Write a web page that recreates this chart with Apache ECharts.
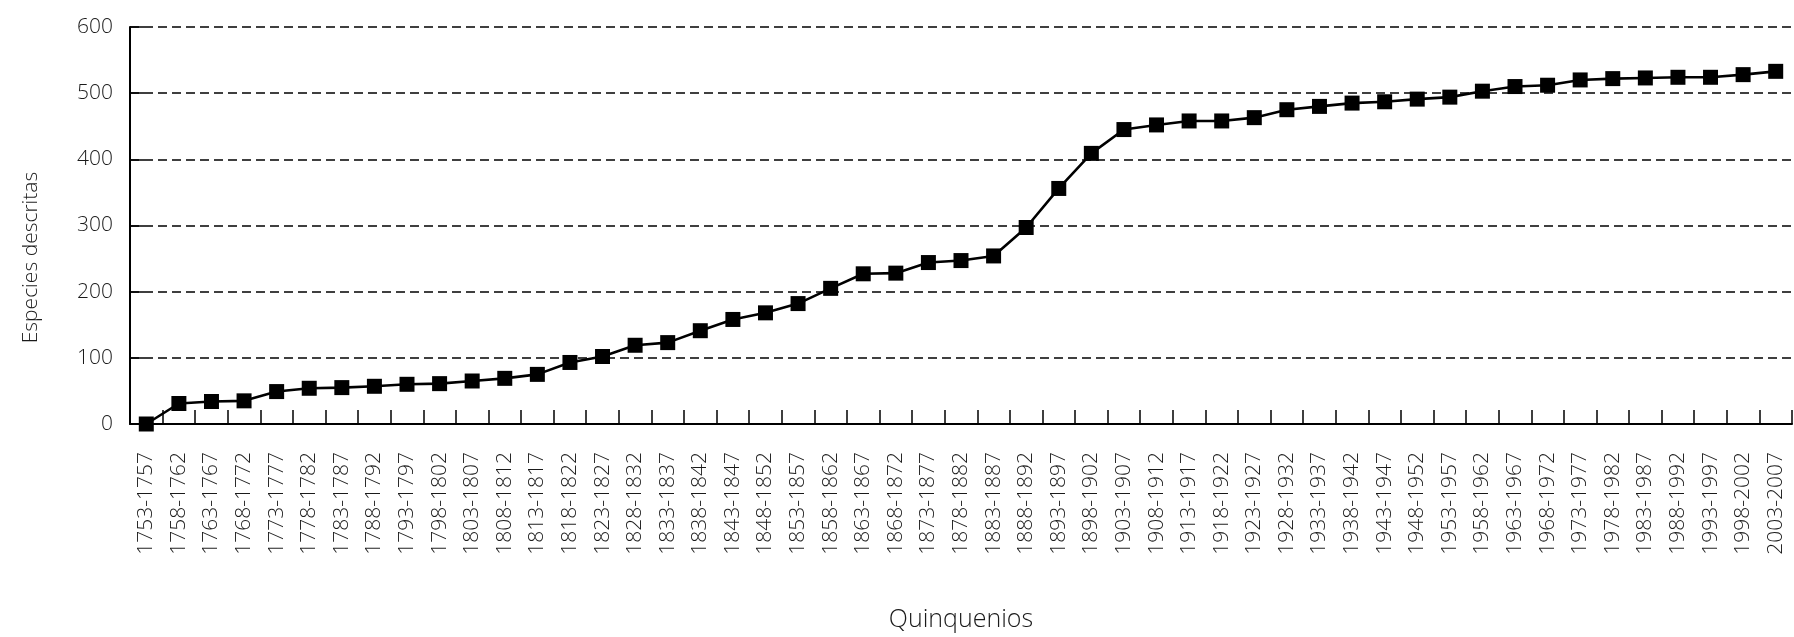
<!DOCTYPE html>
<html>
<head>
<meta charset="utf-8">
<script src="https://cdn.jsdelivr.net/npm/echarts@6/dist/echarts.min.js"></script>
<style>
html,body{margin:0;padding:0;background:#fff;}
#chart{width:1794px;height:637px;}
</style>
</head>
<body>
<div id="chart"></div>
<script>
const categories = [
  "1753-1757","1758-1762","1763-1767","1768-1772","1773-1777","1778-1782","1783-1787","1788-1792",
  "1793-1797","1798-1802","1803-1807","1808-1812","1813-1817","1818-1822","1823-1827","1828-1832",
  "1833-1837","1838-1842","1843-1847","1848-1852","1853-1857","1858-1862","1863-1867","1868-1872",
  "1873-1877","1878-1882","1883-1887","1888-1892","1893-1897","1898-1902","1903-1907","1908-1912",
  "1913-1917","1918-1922","1923-1927","1928-1932","1933-1937","1938-1942","1943-1947","1948-1952",
  "1953-1957","1958-1962","1963-1967","1968-1972","1973-1977","1978-1982","1983-1987","1988-1992",
  "1993-1997","1998-2002","2003-2007"
];
const especies = [
  0, 31, 34, 35, 49, 54, 55, 57, 60, 61, 65, 69, 75, 93, 102, 119,
  123, 141, 158, 168, 182, 205, 227, 228, 244, 247, 254, 297, 356, 409, 445, 452,
  458, 458, 463, 475, 480, 485, 487, 491, 494, 503, 510, 512, 520, 522, 523, 524,
  524, 528, 533
];
const yTicks = { min: 0, max: 600, interval: 100 };
const yAxisName = "Especies descritas";
const xAxisName = "Quinquenios";

const font = "'Open Sans', 'Noto Sans', sans-serif";
const txt = '#1a1a1a';
const chart = echarts.init(document.getElementById('chart'), null, { renderer: 'canvas' });
chart.setOption({
  backgroundColor: '#ffffff',
  animation: false,
  grid: { left: 130, right: 2, top: 27, bottom: 208, containLabel: false },
  xAxis: {
    type: 'category',
    data: categories,
    boundaryGap: true,
    name: xAxisName,
    nameLocation: 'middle',
    nameGap: 183,
    nameTextStyle: { fontFamily: font, fontWeight: 300, fontSize: 25, color: txt },
    axisLine: { show: true, lineStyle: { color: '#000', width: 2 } },
    axisTick: { show: true, inside: true, length: 14, interval: 0, lineStyle: { color: '#000', width: 1.5 } },
    axisLabel: { interval: 0, rotate: 90, margin: 28, fontFamily: font, fontWeight: 300, fontSize: 21, color: txt },
    splitLine: { show: false }
  },
  yAxis: {
    type: 'value',
    min: yTicks.min,
    max: yTicks.max,
    interval: yTicks.interval,
    name: yAxisName,
    nameLocation: 'middle',
    nameGap: 88,
    nameTextStyle: { fontFamily: font, fontWeight: 300, fontSize: 21, color: txt, padding: [0, 64, 0, 0] },
    axisLine: { show: true, lineStyle: { color: '#000', width: 2 } },
    axisTick: { show: true, inside: true, length: 14, lineStyle: { color: '#000', width: 1.5 } },
    axisLabel: { margin: 17, fontFamily: font, fontWeight: 300, fontSize: 21, color: txt },
    splitLine: { show: true, lineStyle: { color: '#000', width: 1.6, type: [9, 5] } }
  },
  series: [{
    type: 'line',
    data: especies,
    symbol: 'rect',
    symbolSize: 15,
    lineStyle: { color: '#000', width: 2.6 },
    itemStyle: { color: '#000' },
    z: 5
  }]
});
</script>
</body>
</html>
